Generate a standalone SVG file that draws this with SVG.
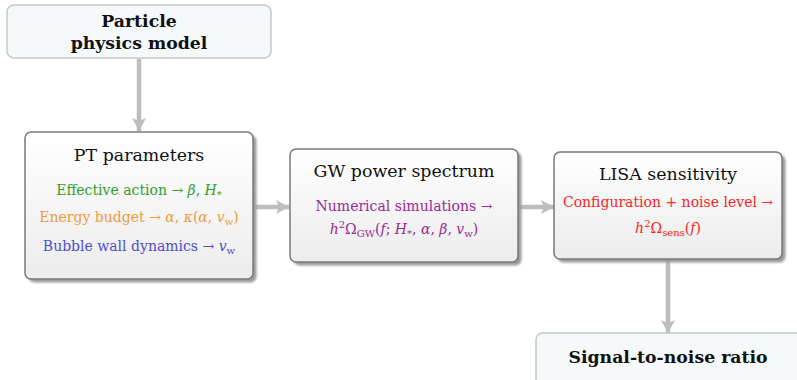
<svg xmlns="http://www.w3.org/2000/svg" width="797" height="380" viewBox="0 0 797 380">
<defs>
<linearGradient id="g" x1="0" y1="0" x2="0" y2="1">
<stop offset="0" stop-color="#ffffff"/>
<stop offset="1" stop-color="#ececec"/>
</linearGradient>
<filter id="blur" x="-5%" y="-5%" width="110%" height="110%">
<feGaussianBlur stdDeviation="1.2"/>
</filter>
<marker id="ah" viewBox="0 0 16 16" refX="14" refY="8" markerWidth="16" markerHeight="16" markerUnits="userSpaceOnUse" orient="auto">
<path d="M14,8 L1,1 L4,8 L1,15 Z" fill="#bdbdbd"/>
</marker>
</defs>
<style>
.ext{fill:#f5f9fa;stroke:#c4c8ca;stroke-width:1.5}
.box{fill:url(#g);stroke:#7a7a7a;stroke-width:1.5}
.sh{fill:#9a9a9a;filter:url(#blur)}
text{font-family:'DejaVu Serif','Liberation Serif',serif;text-anchor:middle;fill:#111}
.tb{font-weight:bold;font-size:17.3px}
.ttl{font-size:17.4px}
.ln{font-size:14px}
.i{font-style:italic}
.conn{stroke:#bdbdbd;stroke-width:4.5;fill:none;marker-end:url(#ah)}
</style>
<g id="connectors">
<line class="conn" x1="139" y1="59" x2="139" y2="131"/>
<line class="conn" x1="254" y1="207" x2="289" y2="207"/>
<line class="conn" x1="518" y1="207" x2="554" y2="207"/>
<line class="conn" x1="668" y1="260" x2="668" y2="333"/>
</g>
<g id="particle">
<rect class="ext" x="7" y="5" width="264" height="53" rx="7"/>
<text class="tb" x="139" y="27">Particle</text>
<text class="tb" x="139" y="49">physics model</text>
</g>
<g id="pt">
<rect class="sh" x="28.5" y="135" width="228" height="147.5" rx="6"/>
<rect class="box" x="25" y="132" width="228" height="147" rx="6"/>
<text class="ttl" x="139" y="161">PT parameters</text>
<text class="ln" x="139" y="195" style="fill:#2ea02e">Effective action → <tspan class="i">β</tspan>, <tspan class="i">H</tspan><tspan font-size="10" dy="3">*</tspan></text>
<text class="ln" x="139" y="222" style="fill:#f29a3c">Energy budget → <tspan class="i">α</tspan>, <tspan class="i">κ</tspan>(<tspan class="i">α</tspan>, <tspan class="i">v</tspan><tspan font-size="10" dy="3">w</tspan><tspan dy="-3">)</tspan></text>
<text class="ln" x="139" y="251" style="fill:#4d4dd6">Bubble wall dynamics → <tspan class="i">v</tspan><tspan font-size="10" dy="3">w</tspan></text>
</g>
<g id="gw">
<rect class="sh" x="293.5" y="152" width="228" height="113.5" rx="6"/>
<rect class="box" x="290" y="149" width="228" height="113" rx="6"/>
<text class="ttl" x="404" y="177">GW power spectrum</text>
<text class="ln" x="404" y="211" style="fill:#9b2a96">Numerical simulations →</text>
<text class="ln" x="404" y="234" style="fill:#9b2a96"><tspan class="i">h</tspan><tspan font-size="10" dy="-6">2</tspan><tspan dy="6">Ω</tspan><tspan font-size="10" dy="3">GW</tspan><tspan dy="-3">(</tspan><tspan class="i">f</tspan>; <tspan class="i">H</tspan><tspan font-size="10" dy="3">*</tspan><tspan dy="-3">, </tspan><tspan class="i">α</tspan>, <tspan class="i">β</tspan>, <tspan class="i">v</tspan><tspan font-size="10" dy="3">w</tspan><tspan dy="-3">)</tspan></text>
</g>
<g id="lisa">
<rect class="sh" x="557.5" y="155" width="228" height="107.5" rx="6"/>
<rect class="box" x="554" y="152" width="228" height="107" rx="6"/>
<text class="ttl" x="668" y="180">LISA sensitivity</text>
<text class="ln" x="668" y="207" style="fill:#ff2424">Configuration + noise level →</text>
<text class="ln" x="668" y="233" style="fill:#ff2424"><tspan class="i">h</tspan><tspan font-size="10" dy="-6">2</tspan><tspan dy="6">Ω</tspan><tspan font-size="10" dy="3">sens</tspan><tspan dy="-3">(</tspan><tspan class="i">f</tspan>)</text>
</g>
<g id="snr">
<rect class="ext" x="536" y="333" width="270" height="60" rx="7"/>
<text class="tb" x="668" y="363">Signal-to-noise ratio</text>
</g>
</svg>
